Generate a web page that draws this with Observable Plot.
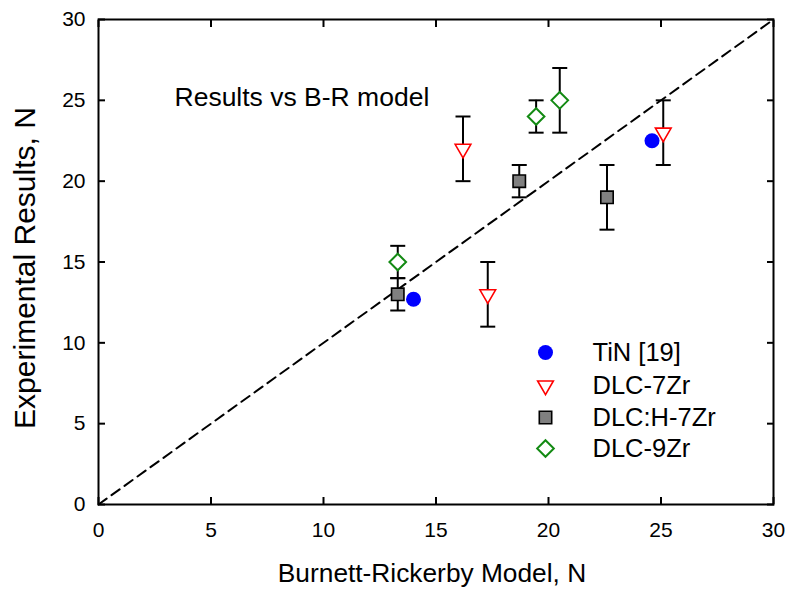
<!DOCTYPE html>
<html>
<head>
<meta charset="utf-8">
<script src="https://cdn.jsdelivr.net/npm/d3@7"></script>
<script src="https://cdn.jsdelivr.net/npm/@observablehq/plot@0.6"></script>
<style>
  html, body { margin: 0; padding: 0; background: #fff; }
  #chart svg { display: block; }
</style>
</head>
<body>
<div id="chart"></div>
<script>
// ---- data ----
const seriesNames = ["TiN [19]", "DLC-7Zr", "DLC:H-7Zr", "DLC-9Zr"];

const tinX = [14.0, 24.6];
const tinY = [12.7, 22.5];

const dlc7X  = [16.2, 17.3, 25.1];
const dlc7Y  = [22, 13, 23];
const dlc7Lo = [20, 11, 21];
const dlc7Hi = [24, 15, 25];

const dlcH7X  = [13.3, 18.7, 22.6];
const dlcH7Y  = [13, 20, 19];
const dlcH7Lo = [12, 19, 17];
const dlcH7Hi = [14, 21, 21];

const dlc9X  = [13.3, 19.45, 20.5];
const dlc9Y  = [15, 24, 25];
const dlc9Lo = [14, 23, 23];
const dlc9Hi = [16, 25, 27];

const diagX = [0, 30];
const diagY = [0, 30];

const xTicks = [0, 5, 10, 15, 20, 25, 30];
const yTicks = [0, 5, 10, 15, 20, 25, 30];

// ---- build tables ----
const rows = (xs, ys, lo, hi) => xs.map((x, i) => ({x, y: ys[i], lo: lo ? lo[i] : null, hi: hi ? hi[i] : null}));
const tin = rows(tinX, tinY);
const dlc7 = rows(dlc7X, dlc7Y, dlc7Lo, dlc7Hi);
const dlcH7 = rows(dlcH7X, dlcH7Y, dlcH7Lo, dlcH7Hi);
const dlc9 = rows(dlc9X, dlc9Y, dlc9Lo, dlc9Hi);
const withErr = [...dlc7, ...dlcH7, ...dlc9];
const diag = diagX.map((x, i) => ({x, y: diagY[i]}));

const capSymbol = {
  draw(context, size) {
    const w = Math.sqrt(size / Math.PI);
    context.moveTo(-w, 0);
    context.lineTo(w, 0);
  }
};

const font = "'Liberation Sans', Arial, Helvetica, sans-serif";

const legendStyles = [
  {symbol: "circle", fill: "#0000ff", stroke: "none", r: 7.5, rotate: 0, sw: 0},
  {symbol: "triangle2", fill: "white", stroke: "#ff0000", r: 7.5, rotate: 180, sw: 1.6},
  {symbol: "square", fill: "#808080", stroke: "black", r: 7, rotate: 0, sw: 1.6},
  {symbol: "diamond2", fill: "white", stroke: "#138a13", r: 7.5, rotate: 0, sw: 2}
];
const legendDy = [333, 366, 398, 429];

const legendMarks = seriesNames.flatMap((name, i) => {
  const s = legendStyles[i];
  return [
    Plot.dot([name], {frameAnchor: "top-left", dx: 447, dy: legendDy[i], symbol: s.symbol, fill: s.fill, stroke: s.stroke, strokeWidth: s.sw, r: s.r, rotate: s.rotate}),
    Plot.text([name], {frameAnchor: "top-left", dx: 494, dy: legendDy[i], text: d => d, textAnchor: "start", lineAnchor: "middle", fontSize: 25.5, fill: "black"})
  ];
});

const chart = Plot.plot({
  width: 791,
  height: 592,
  marginTop: 19,
  marginRight: 18,
  marginBottom: 88,
  marginLeft: 98,
  style: {fontFamily: font, color: "black", background: "white", overflow: "visible"},
  x: {domain: [0, 30], ticks: xTicks},
  y: {domain: [0, 30], ticks: yTicks},
  marks: [
    // inward ticks on all four sides
    Plot.axisX(xTicks, {anchor: "bottom", tickSize: -7, strokeWidth: 2, text: null, label: null}),
    Plot.axisX(xTicks, {anchor: "top", tickSize: -7, strokeWidth: 2, text: null, label: null}),
    Plot.axisY(yTicks, {anchor: "left", tickSize: -7, strokeWidth: 2, text: null, label: null}),
    Plot.axisY(yTicks, {anchor: "right", tickSize: -7, strokeWidth: 2, text: null, label: null}),
    // tick labels
    Plot.axisX(xTicks, {anchor: "bottom", tickSize: 0, tickPadding: 18, fontSize: 21, label: null}),
    Plot.axisY(yTicks, {anchor: "left", tickSize: 0, tickPadding: 13, fontSize: 21, label: null}),
    // axis titles
    Plot.text(["Burnett-Rickerby Model, N"], {frameAnchor: "bottom", dx: -4, dy: 69, text: d => d, textAnchor: "middle", fontSize: 26.3, lineAnchor: "middle", fill: "black"}),
    Plot.text(["Experimental Results, N"], {frameAnchor: "left", dx: -73, dy: 6, rotate: -90, text: d => d, textAnchor: "middle", fontSize: 30, lineAnchor: "middle", fill: "black"}),
    // annotation
    Plot.text(["Results vs B-R model"], {frameAnchor: "top-left", dx: 76, dy: 78, text: d => d, textAnchor: "start", lineAnchor: "middle", fontSize: 26.5, fill: "black"}),
    // 1:1 line
    Plot.line(diag, {x: "x", y: "y", stroke: "black", strokeWidth: 2, strokeDasharray: "10,6"}),
    // error bars
    Plot.ruleX(withErr, {x: "x", y1: "lo", y2: "hi", stroke: "black", strokeWidth: 2}),
    Plot.dot(withErr, {x: "x", y: "lo", symbol: capSymbol, r: 7.5, stroke: "black", strokeWidth: 2}),
    Plot.dot(withErr, {x: "x", y: "hi", symbol: capSymbol, r: 7.5, stroke: "black", strokeWidth: 2}),
    // markers
    Plot.dot(tin, {x: "x", y: "y", symbol: "circle", r: 7.5, fill: "#0000ff", stroke: "none"}),
    Plot.dot(dlc7, {x: "x", y: "y", symbol: "triangle2", r: 7.5, rotate: 180, fill: "white", stroke: "#ff0000", strokeWidth: 1.6}),
    Plot.dot(dlcH7, {x: "x", y: "y", symbol: "square", r: 7, fill: "#808080", stroke: "black", strokeWidth: 1.6}),
    Plot.dot(dlc9, {x: "x", y: "y", symbol: "diamond2", r: 7.5, fill: "white", stroke: "#138a13", strokeWidth: 2}),
    // legend
    ...legendMarks,
    Plot.frame({stroke: "black", strokeWidth: 2})
  ]
});

document.getElementById("chart").appendChild(chart);
</script>
</body>
</html>
